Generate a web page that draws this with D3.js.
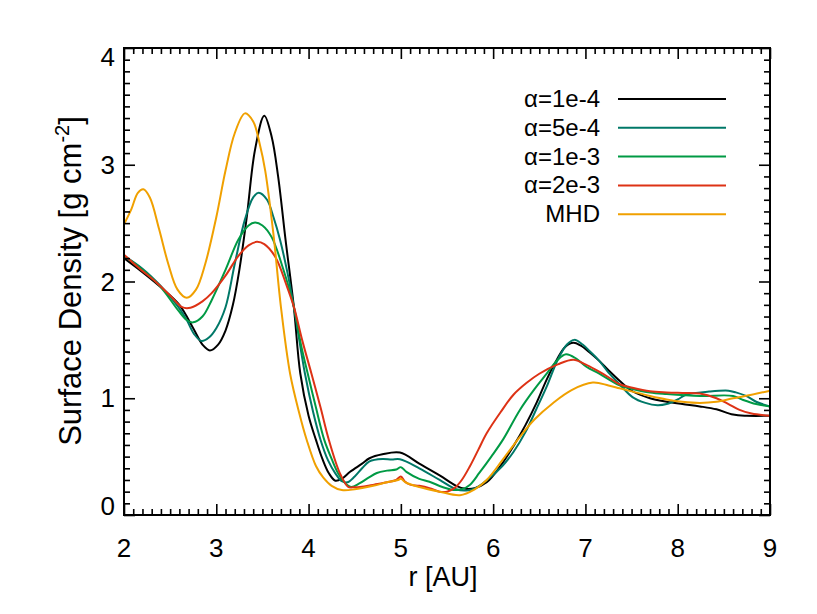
<!DOCTYPE html>
<html>
<head>
<meta charset="utf-8">
<script src="https://cdn.jsdelivr.net/npm/d3@7"></script>
<style>
    body { margin: 0; background: #fff; }
    text { font-family: "Liberation Sans", Arial, sans-serif; fill: #000; }
</style>
</head>
<body>
<script>
//surface density profiles, [r in AU, sigma in g cm^-2]
var alpha1e4 = [[2.0,2.20],[2.2,2.08],[2.4,1.95],[2.6,1.80],[2.75,1.60],[2.85,1.46],[2.93,1.41],[3.02,1.46],[3.1,1.58],[3.18,1.80],[3.25,2.10],[3.33,2.55],[3.42,3.13],[3.52,3.42],[3.6,3.24],[3.67,2.90],[3.75,2.36],[3.84,1.785],[3.91,1.214],[4.0,0.85],[4.08,0.643],[4.15,0.48],[4.22,0.357],[4.29,0.294],[4.36,0.31],[4.45,0.37],[4.58,0.44],[4.66,0.486],[4.8,0.52],[4.99,0.535],[5.2,0.44],[5.42,0.34],[5.6,0.25],[5.7,0.225],[5.8,0.23],[5.93,0.28],[6.08,0.42],[6.22,0.59],[6.35,0.77],[6.47,0.96],[6.58,1.16],[6.69,1.33],[6.78,1.44],[6.87,1.475],[6.95,1.45],[7.05,1.39],[7.15,1.32],[7.25,1.24],[7.37,1.15],[7.51,1.06],[7.7,1.0],[7.88,0.97],[8.05,0.95],[8.24,0.93],[8.42,0.905],[8.6,0.86],[8.75,0.85],[9.0,0.85]];

var alpha5e4 = [[2.0,2.22],[2.2,2.11],[2.4,1.96],[2.59,1.78],[2.68,1.67],[2.76,1.55],[2.84,1.49],[2.92,1.52],[3.0,1.60],[3.1,1.78],[3.2,2.15],[3.31,2.53],[3.4,2.72],[3.46,2.76],[3.55,2.70],[3.62,2.55],[3.69,2.36],[3.77,2.08],[3.84,1.785],[3.96,1.214],[4.05,0.88],[4.13,0.643],[4.21,0.47],[4.29,0.357],[4.36,0.29],[4.42,0.28],[4.5,0.33],[4.58,0.40],[4.66,0.46],[4.8,0.48],[4.9,0.475],[4.99,0.477],[5.2,0.40],[5.42,0.30],[5.6,0.22],[5.71,0.21],[5.82,0.235],[5.95,0.31],[6.1,0.42],[6.22,0.54],[6.35,0.71],[6.47,0.91],[6.58,1.10],[6.7,1.33],[6.8,1.46],[6.88,1.50],[6.97,1.46],[7.05,1.40],[7.15,1.32],[7.25,1.22],[7.37,1.12],[7.51,1.01],[7.65,0.96],[7.78,0.94],[7.88,0.95],[8.0,0.99],[8.09,1.03],[8.34,1.057],[8.55,1.065],[8.63,1.05],[8.74,1.02],[8.85,0.97],[9.0,0.93]];

var alpha1e3 = [[2.0,2.22],[2.2,2.10],[2.4,1.95],[2.59,1.75],[2.68,1.67],[2.75,1.65],[2.85,1.70],[2.95,1.84],[3.1,2.10],[3.24,2.36],[3.35,2.48],[3.42,2.505],[3.5,2.48],[3.6,2.38],[3.72,2.12],[3.84,1.785],[3.92,1.45],[3.99,1.214],[4.08,0.92],[4.17,0.643],[4.25,0.48],[4.32,0.357],[4.4,0.27],[4.46,0.24],[4.55,0.27],[4.65,0.32],[4.74,0.36],[4.85,0.38],[4.95,0.39],[5.0,0.41],[5.06,0.37],[5.2,0.31],[5.31,0.285],[5.45,0.24],[5.57,0.215],[5.66,0.22],[5.75,0.26],[5.85,0.36],[5.98,0.50],[6.11,0.65],[6.29,0.90],[6.45,1.08],[6.58,1.21],[6.7,1.33],[6.79,1.377],[6.9,1.34],[7.01,1.27],[7.15,1.21],[7.37,1.11],[7.51,1.08],[7.7,1.05],[7.88,1.037],[8.24,1.02],[8.6,1.02],[8.71,0.985],[8.85,0.95],[9.0,0.93]];

var alpha2e3 = [[2.0,2.23],[2.17,2.11],[2.34,2.0],[2.5,1.88],[2.63,1.78],[2.72,1.775],[2.85,1.83],[2.95,1.90],[3.1,2.05],[3.24,2.22],[3.35,2.31],[3.44,2.34],[3.52,2.32],[3.64,2.21],[3.76,1.97],[3.84,1.785],[3.93,1.50],[4.03,1.214],[4.13,0.92],[4.22,0.643],[4.34,0.357],[4.43,0.24],[4.48,0.237],[4.6,0.245],[4.71,0.26],[4.85,0.28],[4.95,0.30],[5.0,0.33],[5.04,0.29],[5.1,0.26],[5.2,0.25],[5.31,0.23],[5.42,0.20],[5.5,0.20],[5.58,0.23],[5.66,0.30],[5.75,0.42],[5.84,0.56],[5.93,0.70],[6.08,0.88],[6.22,1.03],[6.36,1.13],[6.5,1.21],[6.7,1.29],[6.87,1.33],[7.0,1.29],[7.12,1.24],[7.25,1.18],[7.37,1.12],[7.51,1.09],[7.7,1.06],[7.88,1.05],[8.05,1.045],[8.24,1.04],[8.42,1.0],[8.55,0.95],[8.67,0.90],[8.8,0.87],[9.0,0.85]];

var mhd = [[2.0,2.49],[2.08,2.62],[2.15,2.76],[2.21,2.79],[2.28,2.72],[2.38,2.45],[2.48,2.15],[2.58,1.93],[2.68,1.86],[2.78,1.93],[2.88,2.15],[3.0,2.55],[3.1,2.95],[3.2,3.27],[3.31,3.44],[3.4,3.37],[3.47,3.18],[3.53,2.95],[3.62,2.40],[3.70,1.785],[3.80,1.21],[3.90,0.87],[3.98,0.643],[4.08,0.42],[4.16,0.32],[4.25,0.25],[4.36,0.214],[4.5,0.22],[4.7,0.25],[4.85,0.28],[4.97,0.30],[5.0,0.31],[5.05,0.28],[5.2,0.24],[5.42,0.20],[5.64,0.17],[5.8,0.22],[5.93,0.30],[6.1,0.47],[6.29,0.67],[6.45,0.82],[6.65,0.96],[6.85,1.07],[7.08,1.134],[7.25,1.11],[7.37,1.085],[7.51,1.057],[7.7,1.02],[7.88,0.99],[8.05,0.97],[8.24,0.96],[8.42,0.97],[8.6,1.0],[8.8,1.03],[9.0,1.065]];

var seriesNames = ["\u03b1=1e-4", "\u03b1=5e-4", "\u03b1=1e-3", "\u03b1=2e-3", "MHD"];
var seriesColors = ["#000000", "#007868", "#009a44", "#dd3215", "#f0a000"];
var seriesData = [alpha1e4, alpha5e4, alpha1e3, alpha2e3, mhd];

var xTicks = [2, 3, 4, 5, 6, 7, 8, 9];
var yTicks = [0, 1, 2, 3, 4];

//frame
var width = 817,
    height = 614;
var plotLeft = 124, plotRight = 770, plotTop = 48, plotBottom = 515;

var svg = d3.select("body")
    .append("svg")
    .attr("width", width)
    .attr("height", height);

var x = d3.scaleLinear().domain([2, 9]).range([plotLeft, plotRight]);
var y = d3.scaleLinear().domain([0, 4]).range([plotBottom, plotTop]);

//minor ticks every 0.1
var xMinor = d3.range(20, 91).map(function(d){ return d / 10; });
var yMinor = d3.range(0, 41).map(function(d){ return d / 10; });

//curves
var line = d3.line()
    .x(function(d){ return x(d[0]); })
    .y(function(d){ return y(d[1]); })
    .curve(d3.curveCatmullRom.alpha(0.5));

svg.selectAll(".curve")
    .data(seriesData)
    .enter()
    .append("path")
    .attr("class", "curve")
    .attr("d", line)
    .attr("fill", "none")
    .attr("stroke", function(d, i){ return seriesColors[i]; })
    .attr("stroke-width", 2);

//axes, IDL style ticks on all four sides
function isMajor(v){ return Math.abs(v - Math.round(v)) < 1e-6; }

var axisBottom = d3.axisBottom(x).tickValues(xMinor).tickFormat("").tickSizeOuter(0);
var axisTop = d3.axisTop(x).tickValues(xMinor).tickFormat("").tickSizeOuter(0);
var axisLeft = d3.axisLeft(y).tickValues(yMinor).tickFormat("").tickSizeOuter(0);
var axisRight = d3.axisRight(y).tickValues(yMinor).tickFormat("").tickSizeOuter(0);

function drawAxis(a, tx, ty, sign, horiz){
    var g = svg.append("g")
        .attr("transform", "translate(" + tx + "," + ty + ")")
        .call(a);
    g.select(".domain").remove();
    g.selectAll(".tick line")
        .attr("stroke", "#000")
        .attr("stroke-width", 1.6)
        .attr(horiz ? "y2" : "x2", function(d){ return sign * (isMajor(d) ? 11 : 6); });
}
drawAxis(axisBottom, 0, plotBottom, -1, true);
drawAxis(axisTop, 0, plotTop, 1, true);
drawAxis(axisLeft, plotLeft, 0, 1, false);
drawAxis(axisRight, plotRight, 0, -1, false);

svg.append("rect")
    .attr("x", plotLeft)
    .attr("y", plotTop)
    .attr("width", plotRight - plotLeft)
    .attr("height", plotBottom - plotTop)
    .attr("fill", "none")
    .attr("stroke", "#000")
    .attr("stroke-width", 2);

//tick labels
svg.selectAll(".xlab")
    .data(xTicks)
    .enter()
    .append("text")
    .attr("x", function(d){ return x(d); })
    .attr("y", 557)
    .attr("text-anchor", "middle")
    .attr("font-size", 26)
    .text(function(d){ return d; });

svg.selectAll(".ylab")
    .data(yTicks)
    .enter()
    .append("text")
    .attr("x", 115)
    .attr("y", function(d){
        var p = y(d);
        if (d === 0) p -= 9;
        if (d === 4) p += 9;
        return p + 9;
    })
    .attr("text-anchor", "end")
    .attr("font-size", 26)
    .text(function(d){ return d; });

//axis titles
svg.append("text")
    .attr("x", 443)
    .attr("y", 586)
    .attr("text-anchor", "middle")
    .attr("font-size", 27)
    .text("r [AU]");

var ytitle = svg.append("text")
    .attr("transform", "translate(81,281) rotate(-90)")
    .attr("text-anchor", "middle")
    .attr("font-size", 31);
ytitle.append("tspan").text("Surface Density [g cm");
ytitle.append("tspan").attr("font-size", 20).attr("dy", -12).text("-2");
ytitle.append("tspan").attr("dy", 12).text("]");

//legend
var legend = svg.selectAll(".legend")
    .data(seriesNames)
    .enter()
    .append("g")
    .attr("transform", function(d, i){ return "translate(0," + (99 + i * 28.8) + ")"; });

legend.append("text")
    .attr("x", 600)
    .attr("y", 8)
    .attr("text-anchor", "end")
    .attr("font-size", 24)
    .text(function(d){ return d; });

legend.append("line")
    .attr("x1", 618)
    .attr("x2", 726)
    .attr("stroke", function(d, i){ return seriesColors[i]; })
    .attr("stroke-width", 2);
</script>
</body>
</html>
